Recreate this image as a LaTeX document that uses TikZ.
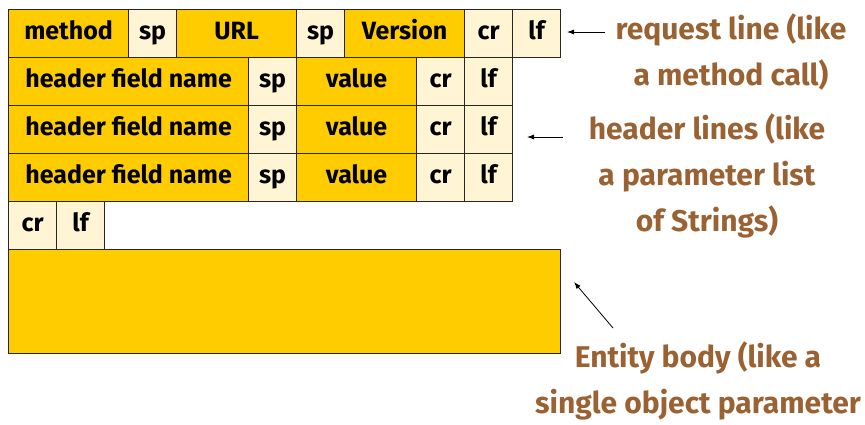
\documentclass[tikz,border=0pt]{standalone}
\usepackage{fontspec}
\setmainfont{Fira Sans}
\usetikzlibrary{arrows.meta}

\definecolor{fieldyellow}{HTML}{FFCC00}
\definecolor{sepcream}{HTML}{FFF4D4}
\definecolor{notebrown}{HTML}{9A6232}

\begin{document}
\begin{tikzpicture}[x=1pt, y=-1pt,
  cell/.style={draw=black!85, line width=1.2pt, inner sep=0pt, minimum height=48pt,
    anchor=north west, text height=17pt, text depth=5pt,
    font=\fontsize{25}{28}\selectfont\bfseries},
  wide/.style={cell, fill=fieldyellow, minimum width=120pt},
  narrow/.style={cell, fill=sepcream, minimum width=48pt},
  note/.style={text=notebrown, align=center, font=\fontsize{30}{46}\selectfont\bfseries},
  pointer/.style={-{Latex[length=7pt,width=5pt]}, line width=0.8pt}]

  \useasboundingbox (0,0) rectangle (865,424);

  % request line
  \node[wide]   (method)  at (8,9)   {method};
  \node[narrow] (sp1)     at (128,9) {sp};
  \node[wide]   (url)     at (176,9) {URL};
  \node[narrow] (sp2)     at (296,9) {sp};
  \node[wide]   (version) at (344,9) {Version};
  \node[narrow] (cr1)     at (464,9) {cr};
  \node[narrow] (lf1)     at (512,9) {lf};

  % header lines
  \foreach \i/\y in {1/57, 2/105, 3/153} {
    \node[wide, minimum width=240pt] (name\i)  at (8,\y)   {header field name};
    \node[narrow]                    (hsp\i)   at (248,\y) {sp};
    \node[wide]                      (value\i) at (296,\y) {value};
    \node[narrow]                    (hcr\i)   at (416,\y) {cr};
    \node[narrow]                    (hlf\i)   at (464,\y) {lf};
  }

  % blank line
  \node[narrow] (endcr) at (8,201)  {cr};
  \node[narrow] (endlf) at (56,201) {lf};

  % entity body
  \node[cell, fill=fieldyellow, minimum width=552pt, minimum height=104pt] (body) at (8,249) {};

  % notes
  \node[note] (reqnote)  at (731,52)  {request line (like\\a method call)};
  \node[note] (headnote) at (707,176) {header lines (like\\a parameter list\\of Strings)};
  \node[note] (bodynote) at (698,381) {Entity body (like a\\single object parameter};

  \coordinate (reqtail)  at (605,32);
  \coordinate (reqhead)  at (567,32);
  \coordinate (headtail) at (563,137);
  \coordinate (headhead) at (527,137);
  \coordinate (bodytail) at (613,328);
  \coordinate (bodyhead) at (574,282);

  \draw[pointer] (reqtail) -- (reqhead);
  \draw[pointer] (headtail) -- (headhead);
  \draw[pointer] (bodytail) -- (bodyhead);
\end{tikzpicture}
\end{document}
